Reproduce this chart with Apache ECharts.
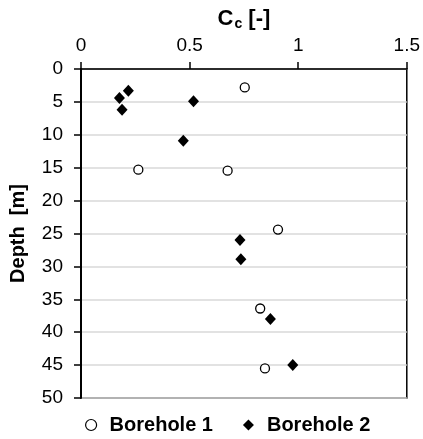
<!DOCTYPE html>
<html>
<head>
<meta charset="utf-8">
<script src="https://cdn.jsdelivr.net/npm/echarts@6/dist/echarts.min.js"></script>
<style>
  html, body { margin: 0; padding: 0; background: #fff; }
  #chart { width: 423px; height: 439px; }
</style>
</head>
<body>
<div id="chart"></div>
<script>
// Cc values and depths
const borehole1Cc = [0.754, 0.264, 0.675, 0.907, 0.825, 0.847]
const borehole1Depth = [2.8, 15.3, 15.45, 24.4, 36.4, 45.5]
const borehole2Cc = [0.218, 0.177, 0.189, 0.518, 0.471, 0.732, 0.736, 0.872, 0.975]
const borehole2Depth = [3.3, 4.4, 6.2, 4.9, 10.9, 26.0, 28.9, 38.0, 45.0]

const font = 'Liberation Sans, Arial, sans-serif'

function pairs(xs, ys) {
  return xs.map(function(x, i) { return [x, ys[i]] })
}

const chart = echarts.init(document.getElementById('chart'))
chart.setOption({
  animation: false,
  textStyle: { fontFamily: font },
  grid: {
    left: 80,
    right: 15,
    top: 69,
    bottom: 41,
    show: true,
    borderColor: '#000',
    borderWidth: 1.5
  },
  legend: {
    bottom: -1,
    left: 80,
    itemGap: 30,
    itemWidth: 11,
    itemHeight: 11,
    textStyle: { fontFamily: font, fontSize: 20, fontWeight: 'bold', color: '#000', padding: [0, 0, 0, 8] },
    data: [
      { name: 'Borehole 1', icon: 'circle', itemStyle: { color: '#fff', borderColor: '#000', borderWidth: 1.2 } },
      { name: 'Borehole 2', icon: 'diamond', itemStyle: { color: '#000' } }
    ]
  },
  xAxis: {
    type: 'value',
    position: 'top',
    min: 0,
    max: 1.5,
    interval: 0.5,
    name: '{a|C}{b|c}{a| [-]}',
    nameLocation: 'middle',
    nameGap: 37,
    nameTextStyle: {
      rich: {
        a: { fontFamily: font, fontSize: 22, fontWeight: 'bold', color: '#000', lineHeight: 26, verticalAlign: 'middle' },
        b: { fontFamily: font, fontSize: 14, fontWeight: 'bold', color: '#000', lineHeight: 14, verticalAlign: 'middle', padding: [11, 0, 0, 1] }
      }
    },
    axisLine: { lineStyle: { color: '#000', width: 1.5 } },
    axisTick: { show: true, inside: false, length: 7, lineStyle: { color: '#000', width: 1.5 } },
    axisLabel: { fontFamily: font, fontSize: 19, color: '#000', margin: 14 },
    splitLine: { show: false }
  },
  yAxis: {
    type: 'value',
    inverse: true,
    min: 0,
    max: 50,
    interval: 5,
    name: 'Depth  [m]',
    nameLocation: 'middle',
    nameGap: 53,
    nameTextStyle: { fontFamily: font, fontSize: 20, fontWeight: 'bold', color: '#000' },
    axisLine: { lineStyle: { color: '#000', width: 2 } },
    axisTick: { show: true, inside: false, length: 7, lineStyle: { color: '#000', width: 1.5 } },
    axisLabel: { fontFamily: font, fontSize: 19, color: '#000', margin: 18 },
    splitLine: { show: true, lineStyle: { color: '#d9d9d9', width: 1.5 } }
  },
  series: [
    {
      name: 'Borehole 1',
      type: 'scatter',
      symbol: 'circle',
      symbolSize: 9,
      itemStyle: { color: '#fff', borderColor: '#000', borderWidth: 1.3, opacity: 1 },
      data: pairs(borehole1Cc, borehole1Depth)
    },
    {
      name: 'Borehole 2',
      type: 'scatter',
      symbol: 'diamond',
      symbolSize: [11, 12],
      itemStyle: { color: '#000', opacity: 1 },
      data: pairs(borehole2Cc, borehole2Depth)
    }
  ]
})
</script>
</body>
</html>
